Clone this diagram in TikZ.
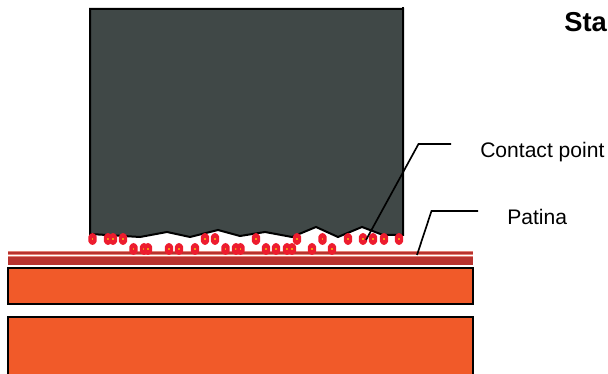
\documentclass[tikz,border=0pt]{standalone}
\usepackage{fontspec}
\setmainfont{Liberation Sans}
\definecolor{blockgrey}{RGB}{64,72,71}
\definecolor{patina}{RGB}{184,50,46}
\definecolor{patinalight}{RGB}{226,130,120}
\definecolor{copper}{RGB}{241,90,41}
\definecolor{spotred}{RGB}{237,28,46}
\definecolor{spotyellow}{RGB}{245,150,20}
\tikzset{
  px/.style={x=0.75pt,y=-0.75pt},
  outline/.style={draw=black,line width=1.5pt},
  leader/.style={draw=black,line width=1.25pt},
  spot/.pic={
    \fill[spotred] (0,-6)--(2.4,-5)--(4.2,-2.4)--(4.2,2.4)--(2.4,5)--(0,6)--(-2.4,5)--(-4.2,2.4)--(-4.2,-2.4)--(-2.4,-5)--cycle;
    \fill[spotyellow] (-.9,-.9) rectangle (.9,.9);
  },
  lbl/.style={anchor=base west,inner sep=0pt,font=\fontsize{15.8pt}{18pt}\selectfont},
}
\begin{document}
\begin{tikzpicture}[px]
\useasboundingbox (0,0) rectangle (608,374);
% block
\filldraw[fill=blockgrey,outline] (90,9) -- (403,9) -- (403,235) -- (383,235) -- (362,227) -- (338,237) -- (316,227) -- (292,237) -- (265,232) -- (240,236) -- (218,230) -- (190,237) -- (167,232) -- (140,237) -- (90,234) -- cycle;
\draw[outline] (403,7) -- (403,10);
% patina
\fill[patinalight] (8,250.8) rectangle (473,254.8);
\fill[patina] (8,251.8) rectangle (473,254);
\fill[patinalight] (8,256.4) rectangle (473,265.2);
\fill[patina] (8,256.9) rectangle (473,264.8);
% contact spots
\foreach \x in {92.5,108,113,123,205,215,256,297,322.5,348,363,373,384,399}
  \pic at (\x,239) {spot};
\foreach \x in {133.5,144,148,169,179,195,225.5,236,240.5,266,276,287,292,312,332}
  \pic at (\x,249) {spot};
% copper
\filldraw[fill=copper,outline] (8,268) rectangle (473,304);
\filldraw[fill=copper,outline] (8,317) rectangle (473,380);
% labels
\node[lbl] (contact) at (480,158) {Contact point};
\node[lbl] (patinatext) at (507,225) {Patina};
\node[anchor=base west,inner sep=0pt,font=\fontsize{20.5pt}{24pt}\selectfont\bfseries] (state) at (564,32) {Sta};
% leaders
\coordinate (c0) at (366,240);
\coordinate (c1) at (418.5,144);
\coordinate (c2) at (451,144);
\coordinate (p0) at (417,255);
\coordinate (p1) at (431.5,211);
\coordinate (p2) at (478,211);
\draw[leader] (c0) -- (c1) -- (c2);
\draw[leader] (p0) -- (p1) -- (p2);
\end{tikzpicture}
\end{document}
